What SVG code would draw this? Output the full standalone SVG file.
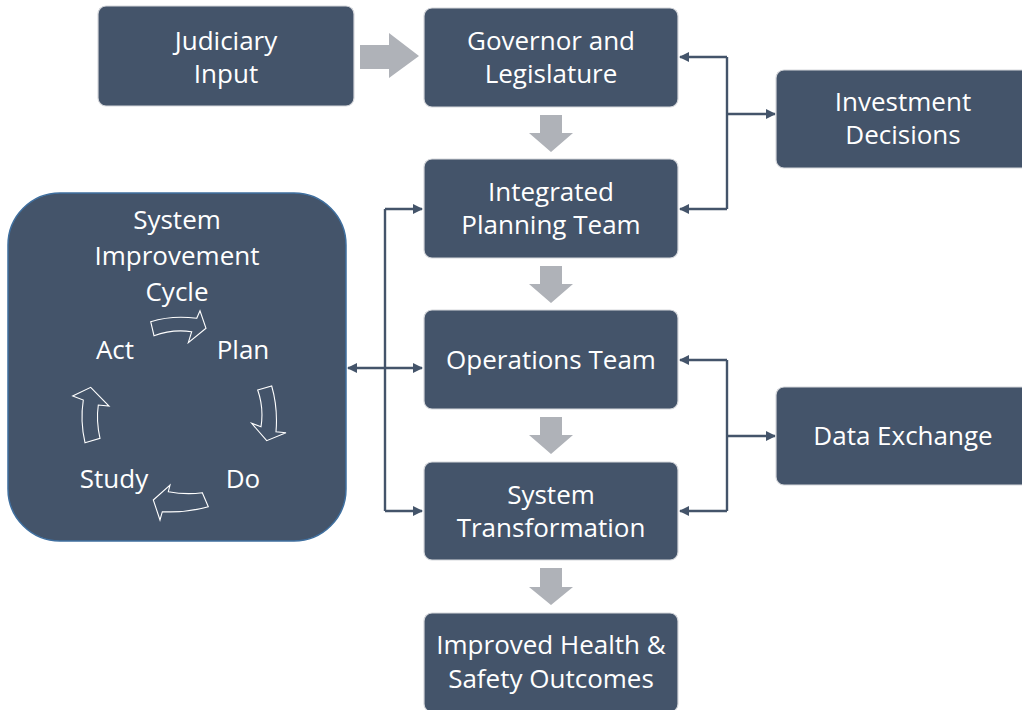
<svg xmlns="http://www.w3.org/2000/svg" width="1022" height="710" viewBox="0 0 1022 710">
  <style>
    .node { fill: #44546a; stroke: #d6d8dc; stroke-width: 1.2; }
    .cycle-box { fill: #44546a; stroke: #3f6f9f; stroke-width: 1.5; }
    .label { fill: #ffffff; font-family: "Open Sans", "Noto Sans", sans-serif; font-size: 26px; text-anchor: middle; }
    .flow { fill: #afb2b8; }
    .link { fill: none; stroke: #44546a; stroke-width: 2.4; }
    .cyc { fill: none; stroke: #ffffff; stroke-width: 1.1; stroke-linejoin: miter; }
  </style>
  <defs>
    <marker id="tip" viewBox="0 0 10 10" refX="9" refY="5" markerWidth="4.2" markerHeight="4.2" orient="auto-start-reverse" markerUnits="strokeWidth">
      <path d="M0,0 L10,5 L0,10 z" fill="#44546a"/>
    </marker>
  </defs>

  <rect width="1022" height="710" fill="#ffffff"/>

  <!-- block arrows between stages -->
  <g id="flow-arrows">
    <path class="flow" d="M360,45 H389 V33 L419,56 L389,78 V69 H360 z"/>
    <path class="flow" d="M540,115 H562 V133 H573 L551,152 L529,133 H540 z"/>
    <path class="flow" d="M540,266 H562 V284 H573 L551,303 L529,284 H540 z"/>
    <path class="flow" d="M540,417 H562 V435 H573 L551,454 L529,435 H540 z"/>
    <path class="flow" d="M540,568 H562 V587 H573 L551,605 L529,587 H540 z"/>
  </g>

  <!-- connectors -->
  <g id="connectors">
    <!-- feedback between planning bodies and investment decisions -->
    <path class="link" d="M727,57 V209" />
    <path class="link" d="M727,57 H680" marker-end="url(#tip)"/>
    <path class="link" d="M727,209 H680" marker-end="url(#tip)"/>
    <path class="link" d="M727,114 H775" marker-end="url(#tip)"/>
    <!-- operations / transformation with data exchange -->
    <path class="link" d="M727,360 V511" />
    <path class="link" d="M727,360 H680" marker-end="url(#tip)"/>
    <path class="link" d="M727,511 H680" marker-end="url(#tip)"/>
    <path class="link" d="M727,436 H775" marker-end="url(#tip)"/>
    <!-- improvement cycle links -->
    <path class="link" d="M385,209 V511" />
    <path class="link" d="M385,209 H422" marker-end="url(#tip)"/>
    <path class="link" d="M385,511 H422" marker-end="url(#tip)"/>
    <path class="link" d="M348,368 H422" marker-start="url(#tip)" marker-end="url(#tip)"/>
  </g>

  <g id="judiciary-input">
    <rect class="node" x="98" y="6" width="256" height="100" rx="8"/>
    <text class="label" x="226" y="50">Judiciary</text>
    <text class="label" x="226" y="83">Input</text>
  </g>

  <g id="governor-legislature">
    <rect class="node" x="424" y="8" width="254" height="99" rx="8"/>
    <text class="label" x="551" y="50">Governor and</text>
    <text class="label" x="551" y="83">Legislature</text>
  </g>

  <g id="integrated-planning-team">
    <rect class="node" x="424" y="159" width="254" height="99" rx="8"/>
    <text class="label" x="551" y="201">Integrated</text>
    <text class="label" x="551" y="234">Planning Team</text>
  </g>

  <g id="operations-team">
    <rect class="node" x="424" y="310" width="254" height="99" rx="8"/>
    <text class="label" x="551" y="369">Operations Team</text>
  </g>

  <g id="system-transformation">
    <rect class="node" x="424" y="462" width="254" height="98" rx="8"/>
    <text class="label" x="551" y="504">System</text>
    <text class="label" x="551" y="537">Transformation</text>
  </g>

  <g id="improved-outcomes">
    <rect class="node" x="424" y="613" width="254" height="99" rx="8"/>
    <text class="label" x="551" y="654">Improved Health &amp;</text>
    <text class="label" x="551" y="688">Safety Outcomes</text>
  </g>

  <g id="investment-decisions">
    <rect class="node" x="776" y="70" width="254" height="98" rx="8"/>
    <text class="label" x="903" y="111">Investment</text>
    <text class="label" x="903" y="144">Decisions</text>
  </g>

  <g id="data-exchange">
    <rect class="node" x="776" y="387" width="254" height="98" rx="8"/>
    <text class="label" x="903" y="445">Data Exchange</text>
  </g>

  <g id="system-improvement-cycle">
    <rect class="cycle-box" x="8" y="193" width="338" height="348" rx="52"/>
    <text class="label" x="177" y="229">System</text>
    <text class="label" x="177" y="265">Improvement</text>
    <text class="label" x="177" y="301">Cycle</text>
    <text class="label" x="115" y="359">Act</text>
    <text class="label" x="243" y="359">Plan</text>
    <text class="label" x="114" y="488">Study</text>
    <text class="label" x="243" y="488">Do</text>
    <!-- Act to Plan -->
    <path class="cyc" d="M150.7,321.7 Q172,315 196.7,318.3 L200,310.7 L206,328.3 L188.3,342.7 L191.7,331.7 Q172,329 154,335.7 z"/>
    <!-- Plan to Do -->
    <path class="cyc" d="M257.7,390 L271.7,386 Q278,408 276,431.7 L286,432.7 L266.7,440.7 L251.7,423.3 L261,426.7 Q264,408 257.7,390 z"/>
    <!-- Do to Study -->
    <path class="cyc" d="M202.3,492.7 L208.3,506.7 Q186,513 162.3,511.7 L160,520 L153.3,500 L170,485 L168.3,491.7 Q186,495 202.3,492.7 z"/>
    <!-- Study to Act -->
    <path class="cyc" d="M85,442.7 L100,438.3 Q96,421 98.3,405 L109,406 L90.7,387.3 L72.7,396 L83.3,400 Q80,421 85,442.7 z"/>
  </g>
</svg>
